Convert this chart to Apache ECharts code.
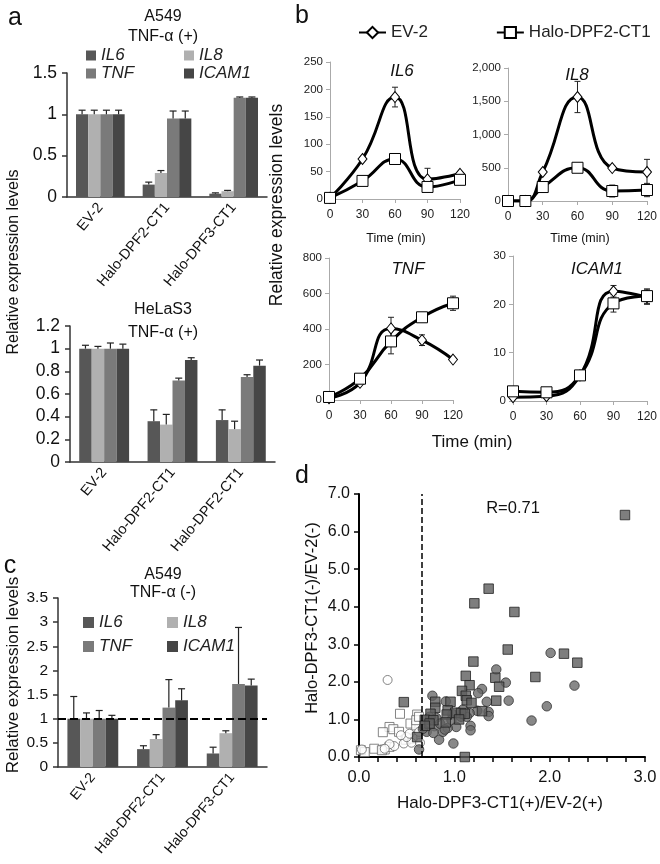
<!DOCTYPE html>
<html><head><meta charset="utf-8">
<script src="https://cdn.jsdelivr.net/npm/echarts@6/dist/echarts.min.js"></script>
<style>html,body{margin:0;padding:0;background:#fff}#c{width:660px;height:864px}</style>
</head><body><div id="c"></div>
<script>
// ---------- DATA ----------
const genes = ['IL6', 'IL8', 'TNF', 'ICAM1'];
const geneColors = ['#575757', '#b0b0b0', '#7a7a7a', '#464646'];

// panel a (top): A549 TNF-α (+)
const catsA549Plus = ['EV-2', 'Halo-DPF2-CT1', 'Halo-DPF3-CT1'];
const a549PlusIL6 = [1, 0.15, 0.04];
const a549PlusIL8 = [1, 0.29, 0.07];
const a549PlusTNF = [1, 0.95, 1.20];
const a549PlusICAM1 = [1, 0.95, 1.20];
const a549PlusErrIL6 = [0.05, 0.03, 0.01];
const a549PlusErrIL8 = [0.05, 0.03, 0.01];
const a549PlusErrTNF = [0.05, 0.09, 0.01];
const a549PlusErrICAM1 = [0.05, 0.09, 0.01];

// panel a (bottom): HeLaS3 TNF-α (+)
const catsHeLa = ['EV-2', 'Halo-DPF2-CT1', 'Halo-DPF2-CT1'];
const helaIL6 = [1, 0.36, 0.37];
const helaIL8 = [1, 0.33, 0.29];
const helaTNF = [1, 0.72, 0.75];
const helaICAM1 = [1, 0.90, 0.85];
const helaErrIL6 = [0.03, 0.10, 0.09];
const helaErrIL8 = [0.02, 0.09, 0.07];
const helaErrTNF = [0.05, 0.02, 0.02];
const helaErrICAM1 = [0.04, 0.02, 0.05];

// panel c: A549 TNF-α (-)
const catsA549Minus = ['EV-2', 'Halo-DPF2-CT1', 'Halo-DPF3-CT1'];
const a549MinusIL6 = [1, 0.37, 0.28];
const a549MinusIL8 = [1, 0.58, 0.70];
const a549MinusTNF = [1, 1.23, 1.72];
const a549MinusICAM1 = [1, 1.38, 1.69];
const a549MinusErrIL6 = [0.46, 0.07, 0.13];
const a549MinusErrIL8 = [0.12, 0.09, 0.05];
const a549MinusErrTNF = [0.17, 0.58, 1.17];
const a549MinusErrICAM1 = [0.07, 0.24, 0.13];

// panel b: time courses
const timeIL6 = [0, 30, 60, 90, 120];
const il6EV = [2, 73, 186, 36, 46];
const il6EVErr = [1, 3, 18, 20, 3];
const il6Halo = [2, 33, 73, 22, 35];
const il6HaloErr = [1, 2, 3, 3, 3];

const timeIL8 = [0, 15, 30, 60, 90, 120];
const il8EV = [0, 0, 436, 1564, 496, 436];
const il8EVErr = [0, 0, 20, 235, 30, 190];
const il8Halo = [0, 0, 210, 500, 150, 165];
const il8HaloErr = [0, 0, 20, 20, 90, 100];

const timeTNF = [0, 30, 60, 90, 120];
const tnfEV = [10, 97, 403, 337, 228];
const tnfEVErr = [5, 5, 63, 30, 5];
const tnfHalo = [17, 120, 330, 466, 545];
const tnfHaloErr = [5, 5, 70, 5, 40];

const timeICAM1 = [0, 30, 60, 90, 120];
const icamEV = [0.8, 1.0, 5.3, 22.7, 21.5];
const icamEVErr = [0.2, 0.2, 0.3, 1.2, 1.5];
const icamHalo = [2.0, 1.8, 5.3, 20.2, 21.7];
const icamHaloErr = [0.3, 0.3, 0.3, 1.8, 1.5];

// panel d: scatter [x, y]
const dFilledSquares = [[2.79,6.44],[1.36,4.48],[1.21,4.09],[1.63,3.86],[1.56,2.86],[2.15,2.75],[2.29,2.51],[1.20,2.54],
  [1.12,2.16],[1.85,2.13],[1.43,2.11],[1.47,1.87],[1.16,1.91],[1.08,1.76],[1.12,1.63],[1.13,1.51],[1.18,1.44],[1.44,1.50],
  [0.47,1.46],[0.80,1.47],[0.96,1.47],[0.80,1.31],[0.93,1.24],[1.29,1.22],[1.01,1.18],[1.07,1.17],[1.11,1.15],[0.92,1.13],
  [0.75,1.15],[0.69,0.99],[0.78,0.98],[1.05,1.00],[0.91,0.92],[0.74,0.89],[0.69,0.83],[0.61,0.53],[1.11,0.0]];
const dFilledCircles = [[0.77,1.63],[0.91,1.48],[1.44,2.33],[1.29,1.81],[1.25,1.70],[1.54,1.98],[1.57,1.50],[1.34,1.47],
  [2.01,2.77],[2.26,1.90],[1.97,1.35],[1.81,0.97],[1.24,1.23],[1.36,1.20],[1.36,1.09],[1.16,1.17],[1.17,0.83],[1.17,0.71],
  [1.02,0.80],[0.99,0.36],[0.84,0.46],[0.88,0.67],[0.93,0.77],[0.79,0.82],[0.71,0.67],[0.78,0.64],[0.63,0.20],[0.74,1.07],
  [0.81,1.04],[0.85,0.89],[1.07,1.07],[1.13,1.07],[0.98,1.14],[1.09,1.26],[0.97,0.99],[0.67,0.75],[0.90,0.73]];
const dOpenSquares = [[0.43,1.15],[0.61,1.13],[0.32,0.80],[0.36,0.74],[0.42,0.67],[0.25,0.66],[0.54,0.89],[0.60,0.84],
  [0.49,0.46],[0.16,0.22],[0.27,0.20],[0.32,0.27],[0.02,0.18],[0.06,0.13],[0.60,0.98],[0.63,1.07],[0.56,0.49],[0.24,0.18]];
const dOpenCircles = [[0.30,2.05],[0.47,0.36],[0.55,0.38],[0.64,0.38],[0.37,0.29],[0.32,0.34],[0.50,0.53],[0.53,0.62],
  [0.44,0.58],[0.63,0.67],[0.03,0.20],[0.27,0.22]];
const dThreshold = 0.66;

// ---------- CHART ----------
const FONT = 'Liberation Sans, Arial, sans-serif';
const GAP = 0.27;
const chart = echarts.init(document.getElementById('c'));

const grids = [
  {left: 67, top: 73, width: 200, height: 124},   // 0 a top
  {left: 70, top: 326, width: 205, height: 136},  // 1 a bottom
  {left: 58, top: 598, width: 209, height: 169},  // 2 c
  {left: 330, top: 62, width: 130, height: 137},  // 3 IL6
  {left: 508, top: 68, width: 140, height: 133},  // 4 IL8
  {left: 329, top: 258, width: 124, height: 142}, // 5 TNF
  {left: 513, top: 256, width: 134, height: 145}, // 6 ICAM1
  {left: 359, top: 494, width: 286, height: 263}  // 7 d
];

function barX(gi, cats, fs) {
  return {type: 'category', gridIndex: gi, data: cats,
    axisLine: {lineStyle: {color: '#333', width: 1.5}},
    axisTick: {length: 5, lineStyle: {color: '#333', width: 1.5}},
    axisLabel: {interval: 0, rotate: 50, fontSize: fs, color: '#111', fontFamily: FONT, margin: 8}};
}
function barY(gi, max, interval, fs) {
  return {type: 'value', gridIndex: gi, min: 0, max: max, interval: interval,
    splitLine: {show: false},
    axisLine: {show: true, lineStyle: {color: '#333', width: 1.5}},
    axisTick: {show: true, length: 5, lineStyle: {color: '#333', width: 1.5}},
    axisLabel: {fontSize: fs, color: '#111', fontFamily: FONT, margin: 10}};
}
function lineX(gi) {
  return {type: 'value', gridIndex: gi, min: 0, max: 120, interval: 30,
    splitLine: {show: false},
    axisLine: {lineStyle: {color: '#aaa', width: 1}},
    axisTick: {show: true, length: 4, lineStyle: {color: '#aaa'}},
    axisLabel: {fontSize: 12, color: '#222', fontFamily: FONT, margin: 10}};
}
function lineY(gi, max, interval, fmt) {
  return {type: 'value', gridIndex: gi, min: 0, max: max, interval: interval,
    splitLine: {show: false},
    axisLine: {show: true, lineStyle: {color: '#aaa', width: 1}},
    axisTick: {show: true, length: 4, lineStyle: {color: '#aaa'}},
    axisLabel: {fontSize: 11.5, color: '#222', fontFamily: FONT, margin: 7, formatter: fmt}};
}
const commaFmt = v => v.toLocaleString('en-US');

const xAxes = [
  barX(0, catsA549Plus, 14.5), barX(1, catsHeLa, 14.5), barX(2, catsA549Minus, 14),
  lineX(3), lineX(4), lineX(5), lineX(6),
  {type: 'value', gridIndex: 7, min: 0, max: 3, interval: 1,
    splitLine: {show: false},
    axisLine: {lineStyle: {color: '#000', width: 2}},
    axisTick: {show: true, length: 5, lineStyle: {color: '#000', width: 1.5}},
    minorTick: {show: true, splitNumber: 5, length: 5, lineStyle: {color: '#000', width: 1.5}},
    axisLabel: {fontSize: 16.5, color: '#111', fontFamily: FONT, margin: 12, formatter: v => v.toFixed(1)}}
];
const yAxes = [
  barY(0, 1.5, 0.5, 17.5), barY(1, 1.2, 0.2, 17.5), barY(2, 3.5, 0.5, 15.5),
  lineY(3, 250, 50), lineY(4, 2000, 500, commaFmt), lineY(5, 800, 200), lineY(6, 30, 10),
  {type: 'value', gridIndex: 7, min: 0, max: 7, interval: 1,
    splitLine: {show: false},
    axisLine: {show: true, lineStyle: {color: '#000', width: 2}},
    axisTick: {show: true, length: 5, lineStyle: {color: '#000', width: 1.5}},
    axisLabel: {fontSize: 16, color: '#111', fontFamily: FONT, margin: 9, formatter: v => v.toFixed(1)}}
];

function errUp(gi) {
  return function (params, api) {
    const c = api.value(0), v = api.value(1), e = api.value(2);
    const p0 = api.coord([c, v]), p1 = api.coord([c, v + e]);
    const band = api.size([1, 0])[0];
    const grp = band * (1 - GAP), bw = grp / 4;
    const x = p0[0] - grp / 2 + bw * (gi + 0.5);
    const st = {stroke: '#222', lineWidth: 1.2};
    return {type: 'group', children: [
      {type: 'line', shape: {x1: x, y1: p0[1], x2: x, y2: p1[1]}, style: st},
      {type: 'line', shape: {x1: x - 3.5, y1: p1[1], x2: x + 3.5, y2: p1[1]}, style: st}
    ]};
  };
}
function errBoth(params, api) {
  const x = api.value(0), v = api.value(1), e = api.value(2);
  if (!e) return null;
  const pt = api.coord([x, v + e]), pb = api.coord([x, v - e]);
  const st = {stroke: '#222', lineWidth: 1};
  return {type: 'group', children: [
    {type: 'line', shape: {x1: pt[0], y1: pt[1], x2: pb[0], y2: pb[1]}, style: st},
    {type: 'line', shape: {x1: pt[0] - 3, y1: pt[1], x2: pt[0] + 3, y2: pt[1]}, style: st},
    {type: 'line', shape: {x1: pb[0] - 3, y1: pb[1], x2: pb[0] + 3, y2: pb[1]}, style: st}
  ]};
}

const series = [];
function addBars(gi, vals, errs, markLine) {
  vals.forEach((arr, k) => {
    const s = {type: 'bar', name: genes[k], xAxisIndex: gi, yAxisIndex: gi, data: arr,
      itemStyle: {color: geneColors[k]}, barGap: '0%', barCategoryGap: (GAP * 100) + '%', z: 2, silent: true};
    if (markLine && k === 0) s.markLine = markLine;
    series.push(s);
  });
  errs.forEach((arr, k) => {
    series.push({type: 'custom', name: genes[k] + ' error', xAxisIndex: gi, yAxisIndex: gi, z: 3,
      data: arr.map((e, ci) => [ci, vals[k][ci], e]), renderItem: errUp(k), silent: true});
  });
}
addBars(0, [a549PlusIL6, a549PlusIL8, a549PlusTNF, a549PlusICAM1],
  [a549PlusErrIL6, a549PlusErrIL8, a549PlusErrTNF, a549PlusErrICAM1]);
addBars(1, [helaIL6, helaIL8, helaTNF, helaICAM1], [helaErrIL6, helaErrIL8, helaErrTNF, helaErrICAM1]);
addBars(2, [a549MinusIL6, a549MinusIL8, a549MinusTNF, a549MinusICAM1],
  [a549MinusErrIL6, a549MinusErrIL8, a549MinusErrTNF, a549MinusErrICAM1],
  {symbol: 'none', silent: true, label: {show: false}, lineStyle: {type: 'dashed', color: '#000', width: 2}, data: [{yAxis: 1}]});

function addLines(gi, t, ev, evErr, halo, haloErr) {
  const zip = (a, b) => t.map((x, i) => [x, a[i], b ? b[i] : 0]);
  series.push({type: 'custom', xAxisIndex: gi, yAxisIndex: gi, z: 1, data: zip(ev, evErr), renderItem: errBoth, silent: true});
  series.push({type: 'custom', xAxisIndex: gi, yAxisIndex: gi, z: 1, data: zip(halo, haloErr), renderItem: errBoth, silent: true});
  series.push({type: 'line', name: 'EV-2', xAxisIndex: gi, yAxisIndex: gi, z: 3, smooth: 0.5,
    data: t.map((x, i) => [x, ev[i]]), symbol: 'diamond', symbolSize: [9, 11], showAllSymbol: true,
    lineStyle: {color: '#000', width: 3}, itemStyle: {color: '#fff', borderColor: '#000', borderWidth: 1}});
  series.push({type: 'line', name: 'Halo-DPF2-CT1', xAxisIndex: gi, yAxisIndex: gi, z: 4, smooth: 0.5,
    data: t.map((x, i) => [x, halo[i]]), symbol: 'rect', symbolSize: 11, showAllSymbol: true,
    lineStyle: {color: '#000', width: 3}, itemStyle: {color: '#fff', borderColor: '#000', borderWidth: 1}});
}
addLines(3, timeIL6, il6EV, il6EVErr, il6Halo, il6HaloErr);
addLines(4, timeIL8, il8EV, il8EVErr, il8Halo, il8HaloErr);
addLines(5, timeTNF, tnfEV, tnfEVErr, tnfHalo, tnfHaloErr);
addLines(6, timeICAM1, icamEV, icamEVErr, icamHalo, icamHaloErr);

series.push({type: 'scatter', name: 'open squares', xAxisIndex: 7, yAxisIndex: 7, data: dOpenSquares, symbol: 'rect', symbolSize: 9,
  itemStyle: {color: '#fff', borderColor: '#666', borderWidth: 1}, z: 2,
  markLine: {symbol: 'none', silent: true, label: {show: false}, lineStyle: {type: 'dashed', color: '#000', width: 1.5}, data: [{xAxis: dThreshold}]}});
series.push({type: 'scatter', name: 'open circles', xAxisIndex: 7, yAxisIndex: 7, data: dOpenCircles, symbol: 'circle', symbolSize: 9,
  itemStyle: {color: '#fff', borderColor: '#666', borderWidth: 1}, z: 2});
series.push({type: 'scatter', name: 'filled circles', xAxisIndex: 7, yAxisIndex: 7, data: dFilledCircles, symbol: 'circle', symbolSize: 9.5,
  itemStyle: {color: '#6a6a6a', borderColor: '#333', borderWidth: 1}, z: 3});
series.push({type: 'scatter', name: 'filled squares', xAxisIndex: 7, yAxisIndex: 7, data: dFilledSquares, symbol: 'rect', symbolSize: 9.5,
  itemStyle: {color: '#5e5e5e', borderColor: '#222', borderWidth: 1}, z: 4});

function geneLegend(name, left, top, size) {
  return {data: [name], left: left, top: top, padding: 0, icon: 'rect', itemWidth: size, itemHeight: size, itemGap: 0,
    selectedMode: false, textStyle: {fontSize: 17, fontStyle: 'italic', color: '#222', fontFamily: FONT}};
}
const legends = [
  geneLegend('IL6', 86, 47, 10), geneLegend('IL8', 184, 47, 10),
  geneLegend('TNF', 86, 65, 10), geneLegend('ICAM1', 184, 65, 10),
  geneLegend('IL6', 83, 614, 11), geneLegend('IL8', 167, 614, 11),
  geneLegend('TNF', 83, 638, 11), geneLegend('ICAM1', 167, 638, 11),
  {data: ['EV-2', 'Halo-DPF2-CT1'], left: 358, top: 24, padding: 0, itemWidth: 27, itemHeight: 14, itemGap: 68,
    selectedMode: false, textStyle: {fontSize: 17, color: '#222', fontFamily: FONT}}
];

function txt(text, x, y, size, opts) {
  opts = opts || {};
  return {type: 'text', x: x, y: y, rotation: opts.rot || 0, silent: true,
    style: {text: text, font: (opts.italic ? 'italic ' : '') + size + 'px ' + FONT, fill: '#111',
      textAlign: 'center', textVerticalAlign: 'middle'}};
}
const R90 = Math.PI / 2;
const texts = [
  txt('a', 15, 18, 25), txt('b', 302, 16, 25), txt('c', 10, 566, 25), txt('d', 302, 476, 25),
  txt('A549', 163, 17, 16), txt('TNF-α (+)', 163, 37, 16),
  txt('HeLaS3', 163, 310, 16), txt('TNF-α (+)', 163, 333, 16),
  txt('A549', 163, 575, 16), txt('TNF-α (-)', 163, 593, 16),
  txt('Relative expression levels', 14, 262, 16, {rot: R90}),
  txt('Relative expression levels', 13, 675, 17, {rot: R90}),
  txt('Relative expression levels', 277, 205, 17.5, {rot: R90}),
  txt('IL6', 402, 71, 17, {italic: true}), txt('IL8', 577, 75, 17, {italic: true}),
  txt('TNF', 408, 269, 17, {italic: true}), txt('ICAM1', 597, 269, 17, {italic: true}),
  txt('Time (min)', 396, 239, 12.5), txt('Time (min)', 580, 239, 12.5), txt('Time (min)', 472, 442, 17),
  txt('R=0.71', 513, 508, 16.5),
  txt('Halo-DPF3-CT1(+)/EV-2(+)', 500, 803, 17),
  txt('Halo-DPF3-CT1(-)/EV-2(-)', 312, 618, 16.5, {rot: R90})
];

chart.setOption({
  animation: false,
  backgroundColor: '#fff',
  textStyle: {fontFamily: FONT},
  grid: grids,
  xAxis: xAxes,
  yAxis: yAxes,
  legend: legends,
  series: series,
  graphic: {elements: texts}
});
</script></body></html>
